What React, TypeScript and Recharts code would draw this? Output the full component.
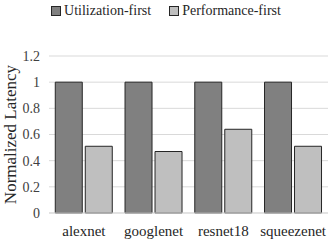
import React from 'react';
import { BarChart, Bar, XAxis, YAxis, CartesianGrid, Legend } from 'recharts';

const models = ['alexnet', 'googlenet', 'resnet18', 'squeezenet'];
const utilizationFirst = [1, 1, 1, 1];
const performanceFirst = [0.51, 0.47, 0.64, 0.51];
const yTicks = [0, 0.2, 0.4, 0.6, 0.8, 1, 1.2];

const data = models.map((name, i) => ({
  name,
  util: utilizationFirst[i],
  perf: performanceFirst[i],
}));

const font = 'Liberation Serif, Tinos, DejaVu Serif, serif';

const LegendBox = () => (
  <div style={{ display: 'flex', justifyContent: 'center', fontFamily: font, fontSize: 14, color: '#262626', paddingLeft: 4 }}>
    <span style={{ display: 'flex', alignItems: 'center', marginRight: 18 }}>
      <span style={{ width: 8, height: 8, background: '#808080', border: '1px solid #262626', marginRight: 3 }} />
      Utilization-first
    </span>
    <span style={{ display: 'flex', alignItems: 'center' }}>
      <span style={{ width: 8, height: 8, background: '#bfbfbf', border: '1px solid #262626', marginRight: 3 }} />
      Performance-first
    </span>
  </div>
);

export default function App() {
  return (
    <div style={{ position: 'absolute', left: 0, top: 0, background: '#fff' }}>
      <BarChart
        width={332}
        height={242}
        data={data}
        margin={{ top: 40, right: 4, left: 0, bottom: 0 }}
        barCategoryGap="9%"
        barGap={3}
      >
        <CartesianGrid vertical={false} stroke="#d9d9d9" />
        <XAxis
          dataKey="name"
          axisLine={{ stroke: '#d9d9d9' }}
          tickLine={false}
          height={29}
          tickSize={0}
          tickMargin={12}
          tick={{ fontFamily: font, fontSize: 15, fill: '#262626' }}
        />
        <YAxis
          width={49}
          domain={[0, 1.2]}
          ticks={yTicks}
          axisLine={false}
          tickLine={false}
          tickSize={0}
          tickMargin={9}
          tick={{ fontFamily: font, fontSize: 14, fill: '#404040' }}
          label={{
            value: 'Normalized Latency',
            angle: -90,
            position: 'insideLeft',
            offset: 10,
            style: { fontFamily: font, fontSize: 17, fill: '#262626', textAnchor: 'middle' },
          }}
        />
        <Legend verticalAlign="top" wrapperStyle={{ top: 3 }} content={<LegendBox />} />
        <Bar dataKey="util" name="Utilization-first" fill="#808080" stroke="#262626" strokeWidth={1} isAnimationActive={false} />
        <Bar dataKey="perf" name="Performance-first" fill="#bfbfbf" stroke="#262626" strokeWidth={1} isAnimationActive={false} />
      </BarChart>
    </div>
  );
}
